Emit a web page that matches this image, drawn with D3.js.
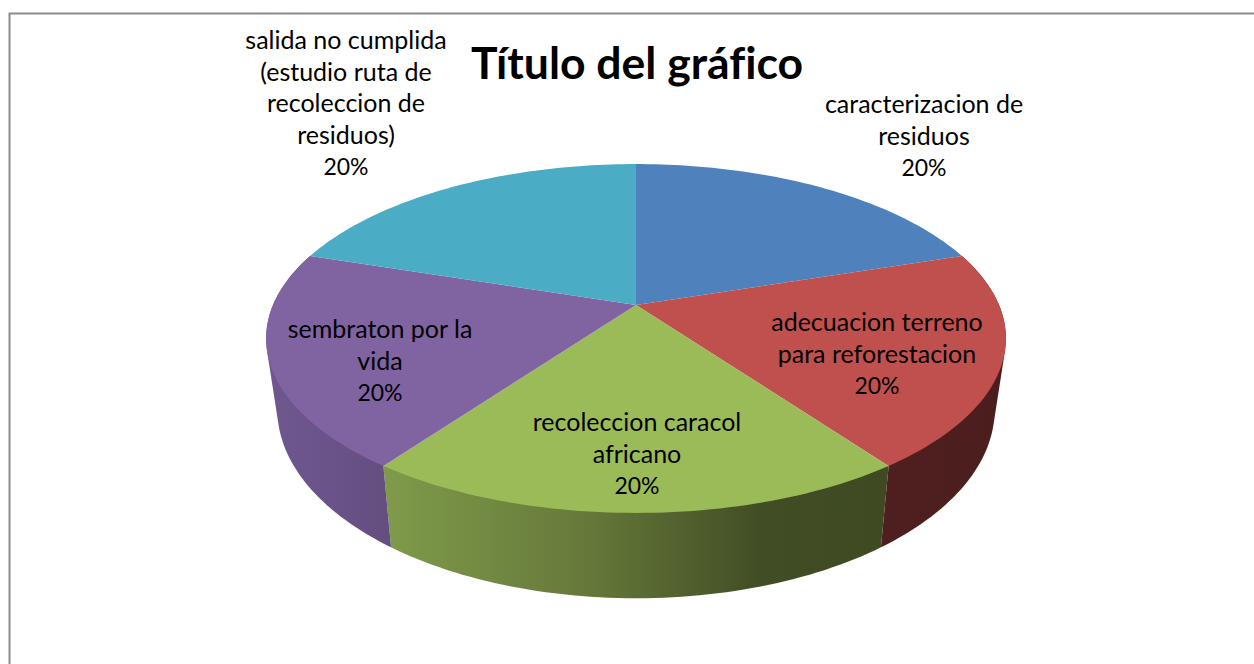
<!DOCTYPE html>
<html>
<head>
<meta charset="utf-8">
<script src="https://d3js.org/d3.v7.min.js"></script>
<style>
  html, body { margin: 0; padding: 0; background: #fff; overflow: hidden; }
  svg { display: block; }
  text { font-family: Lato, "Open Sans", sans-serif; fill: #000; text-anchor: middle; font-variant-ligatures: none; }
</style>
</head>
<body>
<svg id="chart" width="1254" height="664"></svg>
<script>
const title = "Título del gráfico"
const categories = [
  "caracterizacion de residuos",
  "adecuacion terreno para reforestacion",
  "recoleccion caracol africano",
  "sembraton por la vida",
  "salida no cumplida (estudio ruta de recoleccion de residuos)"
]
const percents = [20, 20, 20, 20, 20]
// label text broken as in the picture
const labelLines = [
  ["caracterizacion de", "residuos"],
  ["adecuacion terreno", "para reforestacion"],
  ["recoleccion caracol", "africano"],
  ["sembraton por la", "vida"],
  ["salida no cumplida", "(estudio ruta de", "recoleccion de", "residuos)"]
]
const topColors = ["#4f81bd", "#c0504d", "#9bbb59", "#8064a2", "#4bacc6"]

// side wall shading by slice (the two back slices have no visible wall)
const sideStops = [
  null,
  [[0, "#4e1f1e"], [1, "#4b1e1d"]],
  [[0, "#7f9b4a"], [0.4, "#66793a"], [0.75, "#414d24"], [1, "#3f4a22"]],
  [[0, "#6f5890"], [1, "#644e80"]],
  null
]

// anchor of each label block: centre x, first baseline y
const labelAnchors = [[924, 113], [877, 331], [637, 431], [380, 338], [346, 49]]
const lineHeight = 31.5

const svg = d3.select("#chart")

// perspective projection of the disc: v > 0 comes toward the viewer
const persp = -0.192
const topRim = { cx: 636, cy: 305, a: 363, b: 168 }
const bottomRim = { cx: 636, cy: 373, a: 352, b: 182 }
function project(angle, r, rim) {
  const u = Math.sin(angle) * r, v = -Math.cos(angle) * r
  const w = 1 + persp * v
  return [rim.cx + rim.a * u / w, rim.cy + rim.b * v / w]
}

// frame runs off the right and bottom of the picture
svg.append("rect")
  .attr("x", 9.5).attr("y", 13.5)
  .attr("width", 1300).attr("height", 700)
  .attr("fill", "#fff").attr("stroke", "#8c8c8c").attr("stroke-width", 2)

const pie = d3.pie().sort(null)
const slices = pie(percents)
const line = d3.line()

const defs = svg.append("defs")
function rimPoints(d, rim) {
  return d3.range(0, 61).map(i => project(d.startAngle + (d.endAngle - d.startAngle) * i / 60, 1, rim))
}

// side walls: hull of both rims, the top face covers what sticks out inward
const walls = svg.append("g")
slices.forEach((d, i) => {
  if (!sideStops[i]) return
  const hull = d3.polygonHull(rimPoints(d, topRim).concat(rimPoints(d, bottomRim)))
  const xs = hull.map(p => p[0])
  const grad = defs.append("linearGradient")
    .attr("id", "side" + i)
    .attr("gradientUnits", "userSpaceOnUse")
    .attr("x1", d3.min(xs)).attr("x2", d3.max(xs)).attr("y1", 0).attr("y2", 0)
  sideStops[i].forEach(s => grad.append("stop").attr("offset", s[0]).attr("stop-color", s[1]))
  walls.append("path")
    .attr("d", line(hull) + "Z")
    .attr("fill", "url(#side" + i + ")")
})

// top faces
svg.append("g").selectAll("path")
  .data(slices)
  .join("path")
  .attr("d", d => line([project(0, 0, topRim)].concat(rimPoints(d, topRim))) + "Z")
  .attr("fill", (d, i) => topColors[i])

// data labels
const labels = svg.append("g")
labelLines.forEach((lines, i) => {
  const [lx, ly] = labelAnchors[i]
  const t = labels.append("text").attr("x", lx).attr("y", ly)
  lines.concat([percents[i] + "%"]).forEach((s, j) => {
    t.append("tspan")
      .attr("x", lx)
      .attr("dy", j ? lineHeight : 0)
      .attr("font-size", j === lines.length ? 23 : 25)
      .text(s)
  })
})

svg.append("text")
  .attr("x", 637).attr("y", 79)
  .attr("font-size", 44.5).attr("font-weight", 700)
  .text(title)
</script>
</body>
</html>
